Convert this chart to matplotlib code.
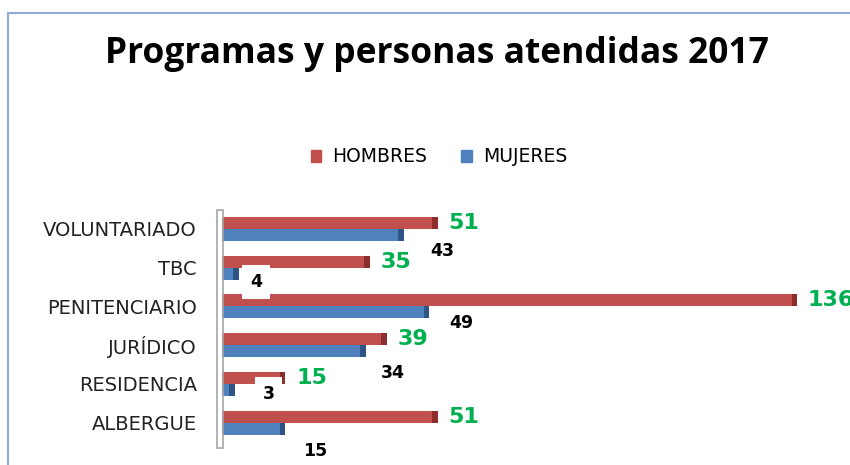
import matplotlib
matplotlib.use("Agg")
import matplotlib.pyplot as plt
from matplotlib.patches import Rectangle, Patch

# data, top to bottom as drawn
categorias = ["VOLUNTARIADO", "TBC", "PENITENCIARIO", "JURÍDICO", "RESIDENCIA", "ALBERGUE"]
hombres = [51, 35, 136, 39, 15, 51]
mujeres = [43, 4, 49, 34, 3, 15]

ROJO = "#C0504D"
ROJO_OSC = "#8C2F2C"
AZUL = "#4F81BD"
AZUL_OSC = "#2E5384"
VERDE = "#00B050"

W, H = 850, 465
PT = 72 / 100                   # points per pixel
fig = plt.figure(figsize=(W / 100, H / 100), dpi=100)

# chart frame (light blue border, runs off the right/bottom edge)
fig.patches.append(Rectangle((8 / W, -0.1), 1.2, 1 - 13 / H + 0.1,
                             transform=fig.transFigure, fill=False,
                             edgecolor="#8EA9DB", lw=1.5))

px = (797 - 222) / 136          # pixels per unit
xmax = 150
ax_left, ax_top, ax_bot = 222 / W, 1 - 209.6 / H, 1 - 442 / H
ax = fig.add_axes([ax_left, ax_bot, xmax * px / W, ax_top - ax_bot])
ax.set_xlim(0, xmax)
ax.set_ylim(5.5, -0.5)

h = 0.31
ys = list(range(len(categorias)))
ax.barh([y - h / 2 for y in ys], hombres, height=h, color=ROJO, zorder=2)
ax.barh([y + h / 2 for y in ys], mujeres, height=h, color=AZUL, zorder=2)
# darker end caps for the 3-D look
cap = 1.3
ax.barh([y - h / 2 for y in ys], [cap] * len(ys), left=[v - cap for v in hombres],
        height=h, color=ROJO_OSC, zorder=3)
ax.barh([y + h / 2 for y in ys], [cap] * len(ys), left=[v - cap for v in mujeres],
        height=h, color=AZUL_OSC, zorder=3)

for y, v in zip(ys, hombres):
    ax.annotate(str(v), (v, y - h / 2), xytext=(11 * PT, 0), textcoords="offset points",
                ha="left", va="center", fontsize=16, fontweight="bold",
                color=VERDE, family="DejaVu Sans", zorder=5, annotation_clip=False)

# hand-placed label offsets (pixels) for the women's values, as in the original
dx_muj = [38, 17, 32, 27, 34, 30]
dy_muj = [16, 8, 11, 22, 4, 22]
for y, v, dx, dy in zip(ys, mujeres, dx_muj, dy_muj):
    ax.annotate(str(v), (v, y + h / 2), xytext=(dx * PT, -dy * PT), textcoords="offset points",
                ha="center", va="center", fontsize=12.5, fontweight="bold",
                color="black", family="DejaVu Sans", zorder=5,
                bbox=dict(boxstyle="square,pad=0.45", fc="white", ec="none"))

ax.set_yticks(ys)
ax.set_yticklabels(categorias, fontsize=14, family="DejaVu Sans", color="#222222")
ax.tick_params(axis="y", length=0, pad=25 * PT)
ax.set_xticks([])
for s in ax.spines.values():
    s.set_visible(False)

# gray wall on the value axis
fig.patches.append(Rectangle((217 / W, 1 - 448 / H), 6 / W, 238 / H,
                             transform=fig.transFigure, fill=False,
                             edgecolor="#A6A6A6", lw=1.2))

fig.text(437 / W, 1 - 54 / H, "Programas y personas atendidas 2017",
         ha="center", va="center", fontsize=25.5, fontweight="bold",
         family="Open Sans")

fig.legend(handles=[Patch(color=ROJO, label="HOMBRES"), Patch(color=AZUL, label="MUJERES")],
           loc="center", bbox_to_anchor=(439 / W, 1 - 157 / H), ncol=2,
           frameon=False, handlelength=0.55, handleheight=0.55,
           handletextpad=0.6, columnspacing=1.8,
           prop={"family": "DejaVu Sans", "size": 13.5})

fig.savefig("out.png", dpi=100)
